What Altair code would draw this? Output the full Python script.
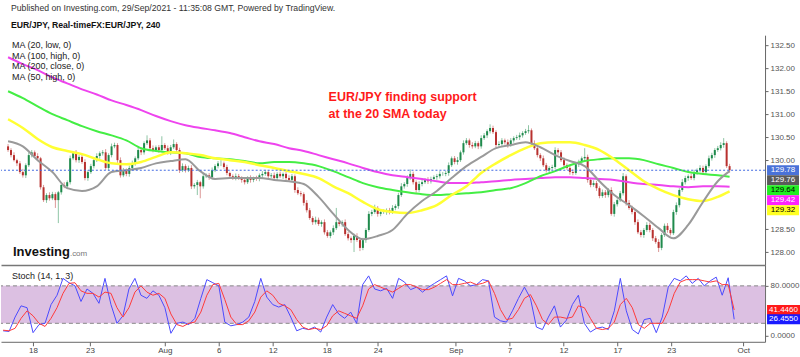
import altair as alt
import pandas as pd

FONT = "Liberation Sans"

# ---------------- data ----------------
first_open = 130.30
closes = [
    130.22, 130.11, 130.00, 129.93, 129.74, 129.67, 129.89, 130.11, 130.17, 130.09,
    130.04, 129.41, 129.13, 129.24, 129.17, 129.26, 129.13, 129.30, 129.46, 129.43,
    129.52, 130.04, 130.15, 130.00, 130.07, 129.96, 129.61, 129.74, 129.87, 130.00,
    130.09, 130.15, 130.17, 129.83, 130.11, 130.30, 130.33, 130.00, 129.67, 129.78,
    129.70, 129.83, 129.93, 130.04, 130.22, 130.17, 130.37, 130.43, 130.26, 130.22,
    130.28, 130.22, 130.33, 130.26, 130.17, 130.28, 130.35, 130.22, 129.78, 129.87,
    129.78, 129.83, 129.43, 129.46, 129.52, 129.43, 129.65, 129.67, 129.63, 129.78,
    129.87, 129.93, 129.93, 129.85, 129.72, 129.65, 129.61, 129.65, 129.61, 129.57,
    129.52, 129.61, 129.57, 129.61, 129.59, 129.67, 129.70, 129.74, 129.65, 129.67,
    129.61, 129.70, 129.65, 129.70, 129.61, 129.57, 129.65, 129.35, 129.28, 129.26,
    129.07, 128.91, 128.74, 128.65, 128.70, 128.61, 128.65, 128.43, 128.35, 128.43,
    128.52, 128.65, 128.61, 128.65, 128.39, 128.30, 128.26, 128.35, 128.26, 128.09,
    128.26, 128.48, 128.83, 128.87, 128.96, 128.83, 128.87, 128.87, 128.91, 128.87,
    128.96, 129.00, 129.24, 129.43, 129.48, 129.61, 129.70, 129.52, 129.35, 129.48,
    129.52, 129.57, 129.54, 129.59, 129.63, 129.65, 129.70, 129.70, 129.72, 129.89,
    130.04, 129.96, 130.00, 130.17, 130.37, 130.43, 130.33, 130.30, 130.37, 130.30,
    130.48, 130.54, 130.63, 130.70, 130.61, 130.33, 130.35, 130.43, 130.39, 130.33,
    130.43, 130.48, 130.50, 130.54, 130.59, 130.63, 130.65, 130.37, 130.26, 130.11,
    130.04, 129.89, 129.78, 129.83, 129.85, 130.22, 130.17, 130.00, 129.89, 129.83,
    129.74, 129.72, 129.91, 129.96, 130.04, 130.07, 129.57, 129.46, 129.50, 129.39,
    129.22, 129.30, 129.24, 129.35, 128.83, 129.04, 129.13, 129.28, 129.65, 129.07,
    128.96, 128.87, 128.65, 128.43, 128.37, 128.48, 128.59, 128.48, 128.30, 128.22,
    128.09, 128.37, 128.57, 128.48, 128.41, 128.87, 129.02, 129.35, 129.52, 129.61,
    129.65, 129.61, 129.74, 129.78, 129.83, 129.74, 129.87, 130.04, 130.11, 130.22,
    130.26, 130.33, 130.37, 129.87, 129.78,
]
# wick lengths in pips above / below the candle body
wick_up = [
    5, 4, 6, 3, 5, 7, 4, 6, 5, 4, 6, 3, 5, 4, 6, 5, 4, 3, 5, 6,
    4, 6, 5, 7, 4, 5, 6, 4, 5, 3, 6, 4, 5, 7, 4, 6, 5, 4, 6, 5,
    4, 5, 6, 4, 7, 5, 4, 11, 5, 6, 4, 5, 19, 4, 6, 5, 10, 4, 5, 6,
    4, 5, 6, 4, 5, 3, 6, 4, 5, 6, 4, 5, 7, 4, 5, 3, 4, 6, 5, 4,
    5, 4, 6, 3, 5, 4, 6, 5, 4, 5, 6, 4, 5, 3, 4, 6, 5, 4, 6, 5,
    4, 6, 5, 4, 7, 5, 4, 6, 5, 4, 6, 31, 5, 4, 6, 5, 4, 5, 6, 4,
    5, 4, 6, 5, 7, 4, 5, 6, 4, 5, 6, 4, 5, 7, 4, 6, 10, 5, 4, 6,
    5, 4, 6, 5, 4, 5, 6, 4, 5, 6, 4, 5, 7, 4, 6, 5, 4, 6, 5, 4,
    6, 5, 4, 8, 5, 4, 6, 5, 4, 6, 5, 4, 5, 6, 4, 5, 11, 4, 6, 5,
    4, 6, 5, 4, 5, 6, 4, 5, 6, 4, 5, 6, 4, 5, 4, 19, 5, 4, 6, 5,
    4, 6, 5, 4, 6, 5, 4, 5, 7, 4, 6, 5, 4, 6, 5, 4, 6, 5, 4, 5,
    6, 4, 5, 6, 4, 5, 6, 4, 7, 5, 4, 6, 5, 4, 6, 5, 4, 6, 5, 4,
    5, 6, 11, 4, 5,
]
wick_dn = [
    4, 5, 3, 6, 4, 5, 6, 4, 5, 3, 6, 5, 4, 6, 5, 4, 17, 50, 5, 4,
    6, 5, 4, 5, 6, 4, 5, 6, 4, 5, 4, 6, 5, 4, 6, 5, 4, 6, 5, 4,
    5, 6, 4, 5, 4, 6, 5, 4, 6, 5, 4, 6, 5, 4, 5, 6, 4, 5, 6, 4,
    5, 4, 6, 5, 22, 26, 5, 4, 6, 5, 4, 5, 6, 4, 5, 6, 4, 5, 4, 6,
    5, 4, 6, 5, 4, 5, 6, 4, 5, 4, 6, 5, 4, 6, 5, 4, 5, 6, 4, 5,
    6, 5, 4, 6, 5, 4, 6, 5, 4, 5, 6, 4, 5, 6, 4, 5, 6, 26, 4, 7,
    5, 6, 4, 5, 4, 6, 5, 4, 6, 5, 4, 5, 6, 4, 5, 6, 4, 5, 6, 4,
    5, 4, 6, 5, 4, 6, 5, 4, 5, 6, 4, 5, 6, 4, 5, 4, 6, 5, 4, 6,
    5, 4, 6, 5, 4, 5, 6, 4, 5, 6, 4, 5, 4, 6, 5, 4, 5, 6, 4, 5,
    6, 4, 5, 6, 4, 5, 6, 4, 5, 4, 6, 5, 4, 6, 5, 4, 6, 5, 4, 6,
    5, 4, 6, 5, 4, 6, 5, 4, 5, 6, 4, 5, 6, 4, 5, 6, 4, 5, 6, 4,
    9, 5, 4, 6, 5, 4, 6, 5, 4, 5, 6, 4, 5, 6, 4, 5, 6, 4, 5, 6,
    4, 5, 6, 4, 5,
]

# moving averages, sampled every 5th bar (and the last bar)
ma_bars = list(range(0, 241, 5)) + [244]
ma20_low = [
    130.41, 130.30, 130.00, 129.74, 129.39, 129.33, 129.43, 129.74, 129.78, 129.83,
    129.93, 129.98, 130.02, 129.76, 129.59, 129.61, 129.61, 129.61, 129.57, 129.54,
    129.48, 129.20, 128.83, 128.48, 128.28, 128.35, 128.48, 128.83, 129.11, 129.33,
    129.61, 129.87, 130.07, 130.26, 130.33, 130.39, 130.28, 130.11, 129.98, 129.87,
    129.54, 129.24, 129.02, 128.78, 128.52, 128.30, 128.59, 129.09, 129.54, 129.76,
]
ma50_high = [
    130.89, 130.70, 130.46, 130.28, 130.20, 130.13, 130.02, 129.93, 129.91, 129.96,
    130.07, 130.17, 130.15, 130.11, 130.04, 130.00, 129.96, 129.89, 129.83, 129.76,
    129.70, 129.61, 129.43, 129.28, 129.09, 128.93, 128.87, 128.85, 128.91, 129.02,
    129.24, 129.43, 129.72, 129.93, 130.11, 130.26, 130.37, 130.39, 130.39, 130.33,
    130.22, 130.02, 129.78, 129.54, 129.37, 129.24, 129.15, 129.11, 129.20, 129.32,
]
ma100_high = [
    131.50, 131.35, 131.17, 131.00, 130.87, 130.74, 130.63, 130.54, 130.43, 130.26,
    130.20, 130.17, 130.15, 130.07, 130.04, 130.02, 129.98, 129.93, 129.96, 129.96,
    129.93, 129.87, 129.76, 129.63, 129.50, 129.41, 129.35, 129.30, 129.26, 129.24,
    129.26, 129.28, 129.30, 129.35, 129.39, 129.50, 129.65, 129.76, 129.89, 129.98,
    130.02, 130.04, 130.04, 130.00, 129.91, 129.83, 129.74, 129.70, 129.67, 129.64,
]
ma200_close = [
    132.24, 132.09, 131.96, 131.80, 131.67, 131.54, 131.43, 131.30, 131.20, 131.09,
    130.96, 130.85, 130.76, 130.70, 130.65, 130.59, 130.50, 130.41, 130.35, 130.26,
    130.20, 130.11, 130.02, 129.93, 129.83, 129.74, 129.67, 129.63, 129.59, 129.54,
    129.50, 129.50, 129.52, 129.54, 129.57, 129.59, 129.61, 129.63, 129.63, 129.61,
    129.59, 129.57, 129.52, 129.48, 129.46, 129.43, 129.41, 129.43, 129.43, 129.42,
]

# stochastic (14, 1, 3), sampled every 2nd bar
stoch_bars = list(range(0, 245, 2))
stoch_k = [
    8, 7, 30, 48, 45, 5, 18, 20, 50, 65,
    92, 85, 80, 55, 75, 68, 52, 92, 50, 20,
    32, 75, 92, 65, 60, 72, 65, 45, 4, 20,
    22, 18, 28, 60, 90, 85, 80, 22, 16, 18,
    22, 30, 55, 92, 62, 50, 46, 50, 30, 8,
    12, 10, 14, 6, 30, 50, 35, 28, 38, 20,
    82, 96, 75, 72, 76, 60, 92, 86, 74, 78,
    70, 78, 84, 90, 96, 64, 92, 88, 80, 82,
    90, 88, 30, 24, 22, 40, 60, 78, 60, 14,
    10, 30, 48, 14, 25, 50, 65, 20, 6, 12,
    14, 10, 40, 92, 40, 10, 3, 26, 28, 5,
    30, 78, 92, 88, 96, 84, 92, 80, 88, 94,
    65, 93, 26.455,
]
stoch_d = [
    9, 8, 12, 28, 40, 32, 20, 15, 28, 45,
    68, 84, 85, 72, 68, 68, 62, 70, 68, 45,
    30, 45, 70, 80, 70, 65, 68, 60, 35, 18,
    15, 20, 22, 38, 65, 82, 84, 58, 30, 18,
    18, 24, 38, 62, 72, 65, 52, 48, 42, 26,
    14, 10, 12, 10, 16, 32, 40, 36, 32, 28,
    48, 75, 82, 78, 74, 70, 76, 82, 82, 78,
    74, 74, 78, 84, 90, 82, 82, 84, 86, 82,
    84, 88, 68, 42, 26, 28, 42, 60, 66, 48,
    26, 18, 30, 30, 28, 30, 48, 45, 28, 12,
    10, 12, 22, 50, 60, 45, 18, 12, 20, 20,
    20, 40, 68, 86, 90, 90, 90, 88, 86, 88,
    82, 82, 41.446,
]

tick_bars = [10, 29, 54, 72, 90, 108, 125, 151, 169, 187, 205, 223, 247]
tick_labels = ["18", "23", "Aug", "6", "12", "18", "24", "Sep", "7", "12", "17", "23", "Oct"]
price_ticks = [128.0, 128.5, 130.0, 130.5, 131.0, 131.5, 132.0, 132.5]
stoch_ticks = [0, 80]
last_values = [129.78, 129.76, 129.64, 129.42, 129.32]
last_colors = ["#4a72d8", "#5a5a5a", "#22ee22", "#ff22ff", "#ffff22"]
last_text = ["white", "white", "black", "white", "black"]
stoch_last = [41.446, 26.455]

# ---------------- build ----------------
UP, DOWN = "#1f8a4c", "#b8312f"
opens = [first_open] + closes[:-1]
rows = []
for i, (o, c, u, d) in enumerate(zip(opens, closes, wick_up, wick_dn)):
    rows.append(dict(i=i, open=o, close=c,
                     high=round(max(o, c) + u / 100, 3),
                     low=round(min(o, c) - d / 100, 3),
                     dir="up" if c >= o else "down"))
candles = pd.DataFrame(rows)

W, H_HEAD, H_MAIN, H_STOCH = 765, 35, 230, 77
xscale = alt.Scale(domain=[-0.7, 254.3], nice=False, zero=False)
pscale = alt.Scale(domain=[127.72, 132.72], nice=False, zero=False)
sscale = alt.Scale(domain=[-9.6, 113.6], nice=False, zero=False)
one = pd.DataFrame({"a": [0]})

dir_color = alt.Color("dir:N", scale=alt.Scale(domain=["up", "down"], range=[UP, DOWN]), legend=None)

main_x_axis = alt.Axis(labels=False, ticks=False, domain=True, domainColor="#777", domainWidth=1.5,
                       title=None, grid=False)
price_axis = alt.Axis(orient="right", values=price_ticks, format=".2f", title=None, grid=False,
                      domainColor="#666", tickColor="#666", tickSize=3, labelColor="#555",
                      labelFontSize=8, labelFont=FONT, labelPadding=2)
stoch_x_axis = alt.Axis(values=tick_bars,
                        labelExpr=" : ".join(f"datum.value == {b} ? '{t}'" for b, t in zip(tick_bars, tick_labels)) + " : ''",
                        title=None, grid=False, domainColor="#666", tickColor="#666", tickSize=4,
                        labelColor="#444", labelFontSize=8, labelFont=FONT, labelPadding=1)
stoch_axis = alt.Axis(orient="right", values=stoch_ticks, format=".4f", title=None, grid=False,
                      domainColor="#666", tickColor="#666", tickSize=3, labelColor="#555",
                      labelFontSize=8, labelFont=FONT, labelPadding=2)


def MX(f="i"):
    return alt.X(f"{f}:Q", scale=xscale, axis=main_x_axis)


def MY(f):
    return alt.Y(f"{f}:Q", scale=pscale, axis=price_axis)


def SX(f="i"):
    return alt.X(f"{f}:Q", scale=xscale, axis=stoch_x_axis)


def SY(f):
    return alt.Y(f"{f}:Q", scale=sscale, axis=stoch_axis)


def text(s, x, y, size=9, color="#222", weight="normal", align="left"):
    return alt.Chart(one).mark_text(
        text=s, align=align, baseline="middle", fontSize=size, font=FONT,
        fontWeight=weight, color=color
    ).encode(x=alt.value(x), y=alt.value(y))


# header
header = alt.layer(
    text("Published on Investing.com, 29/Sep/2021 - 11:35:08 GMT, Powered by TradingView.", 10, 8, 8.7, "#333"),
    text("EUR/JPY, Real-timeFX:EUR/JPY, 240", 10, 25, 8.7, "#111", "bold"),
).properties(width=W, height=H_HEAD)

# main price panel
wicks = alt.Chart(candles).mark_rule(strokeWidth=1, opacity=0.5).encode(
    x=MX(), y=MY("low"), y2="high:Q", color=dir_color)
bodies = alt.Chart(candles).mark_bar(size=2).encode(
    x=MX(), y=MY("open"), y2="close:Q", color=dir_color)


def ma_layer(vals, color, width=2):
    df = pd.DataFrame({"i": ma_bars, "v": vals})
    return alt.Chart(df).mark_line(color=color, strokeWidth=width, interpolate="monotone").encode(
        x=MX(), y=MY("v"))


price_line = alt.Chart(pd.DataFrame({"v": [last_values[0]]})).mark_rule(
    color="#4169e1", strokeDash=[2, 2], strokeWidth=1).encode(y=MY("v"))

main_layers = [
    wicks, bodies,
    ma_layer(ma200_close, "#ee44ee"),
    ma_layer(ma100_high, "#44ee44"),
    ma_layer(ma50_high, "#ffff33", 2.5),
    ma_layer(ma20_low, "#9a9a9a"),
    price_line,
    text("MA (20, low, 0)", 11, 45 - H_HEAD),
    text("MA (100, high, 0)", 11, 55.5 - H_HEAD),
    text("MA (200, close, 0)", 11, 66 - H_HEAD),
    text("MA (50, high, 0)", 11, 76.5 - H_HEAD),
    text("EUR/JPY finding support", 328, 97 - H_HEAD, 12.5, "#ff1a1a", "bold"),
    text("at the 20 SMA today", 328, 114 - H_HEAD, 12.5, "#ff1a1a", "bold"),
    text("Investing", 12, 252 - H_HEAD, 13, "#111", "bold"),
    text(".com", 69, 254 - H_HEAD, 8, "#777"),
]
for k, (val, fill, tc) in enumerate(zip(last_values, last_colors, last_text)):
    df = pd.DataFrame({"v": [last_values[0]], "t": [f"{val:.2f}"]})
    main_layers.append(alt.Chart(df).mark_rect(color=fill, yOffset=10 * k - 5, y2Offset=10 * k + 5).encode(
        x=alt.value(767), x2=alt.value(799), y=MY("v"), y2="v:Q"))
    main_layers.append(alt.Chart(df).mark_text(color=tc, fontSize=8, font=FONT, align="center",
                                               baseline="middle", yOffset=10 * k).encode(
        x=alt.value(783), y=MY("v"), text="t:N"))

main = alt.layer(*main_layers).properties(width=W, height=H_MAIN)

# stochastic panel
band = alt.Chart(pd.DataFrame({"lo": [20], "hi": [80]})).mark_rect(color="#dcc0e2").encode(
    x=alt.value(0), x2=alt.value(W), y=SY("lo"), y2="hi:Q")
levels = alt.Chart(pd.DataFrame({"v": [20, 80]})).mark_rule(
    color="#888", strokeDash=[4, 3], strokeWidth=1).encode(y=SY("v"))
sdf = pd.DataFrame({"i": stoch_bars, "k": stoch_k, "d": stoch_d})
kline = alt.Chart(sdf).mark_line(color="#4a4aff", strokeWidth=1).encode(x=SX(), y=SY("k"))
dline = alt.Chart(sdf).mark_line(color="#ff3a3a", strokeWidth=1).encode(x=SX(), y=SY("d"))
stoch_layers = [band, levels, kline, dline, text("Stoch (14, 1, 3)", 11, 11, 9, "#222")]
for val, fill in zip(stoch_last, ["#ff1a1a", "#1a1aff"]):
    df = pd.DataFrame({"v": [val], "t": [f"{val:.4f}"]})
    stoch_layers.append(alt.Chart(df).mark_rect(color=fill, yOffset=-5, y2Offset=5).encode(
        x=alt.value(767), x2=alt.value(800), y=SY("v"), y2="v:Q"))
    stoch_layers.append(alt.Chart(df).mark_text(color="white", fontSize=8, font=FONT, align="center",
                                                baseline="middle").encode(
        x=alt.value(783.5), y=SY("v"), text="t:N"))
stoch = alt.layer(*stoch_layers).properties(width=W, height=H_STOCH)

chart = alt.vconcat(header, main, stoch, spacing=0, padding=0, background="white").configure_view(
    stroke=None).configure_axis(grid=False)

chart.save("out.html", embed_options={"renderer": "svg", "actions": False})
